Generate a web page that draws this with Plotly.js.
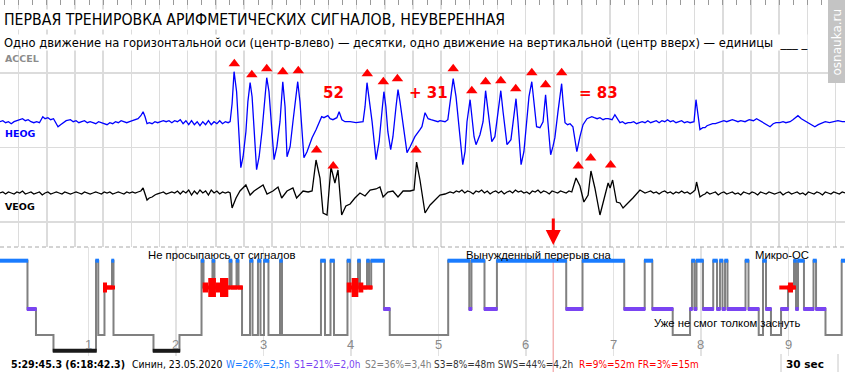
<!DOCTYPE html>
<html><head><meta charset="utf-8">
<script src="https://cdn.plot.ly/plotly-3.0.1.min.js"></script>
<style>html,body{margin:0;padding:0;background:#fff}</style>
</head><body><div id="chart" style="width:845px;height:372px"></div>
<script>
// ---------------- DATA ----------------
// 30-second epoch, time in seconds from the start of the epoch
const heogPoints = [
[0,0],[0.1,1],[0.2,-1],[0.3,0],[0.4,-2],[0.5,0],[0.6,1],[0.7,2],[0.8,3],[0.9,1],[1.0,2],[1.1,0],[1.2,-1],[1.3,0],[1.4,-1],[1.52,5],[1.6,3],[1.7,4],[1.8,2],[1.9,3],[2.0,-2],[2.06,-5],[2.15,-3],[2.25,-1],[2.35,1],[2.5,2],[2.6,0],[2.7,1],[2.8,-1],[2.9,0],[3.0,1],[3.1,-1],[3.2,0],[3.3,-1],[3.4,-2],[3.5,0],[3.6,-1],[3.7,-2],[3.8,-3],[3.9,-1],[4.0,-2],[4.1,0],[4.2,-1],[4.3,1],[4.4,0],[4.5,-1],[4.6,0],[4.7,1],[4.8,2],[4.9,3],[5.0,6],[5.08,10],[5.15,5],[5.22,-2],[5.3,-1],[5.4,-2],[5.5,0],[5.6,-1],[5.7,0],[5.8,1],[5.9,0],[6.0,1],[6.1,-1],[6.2,1],[6.3,0],[6.4,2],[6.5,-2],[6.6,1],[6.7,-3],[6.8,1],[6.9,-3],[7.0,0],[7.1,-4],[7.2,0],[7.3,-3],[7.4,1],[7.5,-3],[7.6,0],[7.7,-2],[7.8,1],[7.9,-2],[8.0,0],[8.1,-1],
[8.17,0],[8.24,18],[8.31,50],[8.40,30],[8.45,0],[8.55,-46],[8.63,-35],[8.73,-10],[8.80,20],[8.88,39],[8.95,25],[9.02,-10],[9.11,-48],[9.20,-35],[9.30,-10],[9.41,25],[9.47,44],[9.55,30],[9.62,0],[9.73,-38],[9.83,-25],[9.94,0],[10.04,40],[10.12,15],[10.19,-35],[10.30,-25],[10.40,0],[10.51,30],[10.57,40],[10.65,20],[10.72,-10],[10.79,-36],[10.90,-30],[11.08,-16],[11.22,-8],[11.30,-2],[11.42,5],[11.50,4],[11.64,6],[11.72,3],[11.82,2],[11.96,4],[12.04,10],[12.14,2],[12.25,0],[12.43,0],[12.64,-1],[12.89,0],[12.96,15],[13.03,39],[13.10,25],[13.21,0],[13.35,-38],[13.46,-20],[13.56,10],[13.63,30],[13.70,15],[13.77,-10],[13.87,-28],[13.95,-15],[14.06,15],[14.13,32],[14.20,20],[14.31,-5],[14.45,-31],[14.56,-25],[14.73,-15],[14.91,-8],[14.98,-5],[15.09,9],[15.20,3],[15.30,2],[15.44,1],[15.55,0],[15.62,1],[15.80,0],[15.90,2],[15.98,20],[16.09,43],[16.19,25],[16.30,-10],[16.43,-43],[16.51,-30],[16.58,0],[16.69,22],[16.76,5],[16.83,-15],[16.90,-23],[17.04,-13],[17.15,0],[17.24,31],[17.33,10],[17.40,-10],[17.46,-20],[17.57,-15],[17.68,10],[17.78,31],[17.86,10],[17.93,-10],[18.00,-23],[18.14,-18],[18.21,0],[18.32,23],[18.39,0],[18.50,-43],[18.60,-30],[18.71,0],[18.78,25],[18.88,40],[18.96,20],[19.05,-5],[19.17,-6],[19.28,0],[19.37,27],[19.46,0],[19.55,-33],[19.63,-25],[19.70,-16],[19.81,10],[19.94,38],[19.99,20],[20.06,-1],[20.15,-3],[20.24,-2],[20.34,-5],[20.48,-30],[20.59,-15],[20.70,-3],[20.84,3],[21.01,5],[21.10,4],[21.20,3],[21.30,4],[21.41,2],[21.50,3],[21.59,3],[21.73,2],[21.83,7],[21.94,2],[22.01,-1],
[22.1,0],[22.2,-2],[22.3,-1],[22.4,-1],[22.5,0],[22.6,-2],[22.7,-1],[22.8,0],[22.9,-1],[23.0,1],[23.1,-1],[23.2,0],[23.3,1],[23.4,-1],[23.5,1],[23.6,0],[23.7,2],[23.8,0],[23.9,1],[24.0,-1],[24.1,0],[24.2,1],[24.3,-1],[24.4,0],[24.5,-1],[24.64,0],[24.71,22],[24.78,5],[24.85,-8],[24.95,-6],[25.03,-6],[25.1,-4],[25.21,-3],[25.3,-2],[25.4,-2],[25.5,-1],[25.56,0],[25.7,1],[25.8,0],[25.92,1],[26.0,2],[26.1,1],[26.2,0],[26.3,1],[26.45,0],[26.6,2],[26.75,1],[26.86,3],[26.98,1],[27.1,-1],[27.2,-3],[27.34,-5],[27.45,-2],[27.55,-1],[27.69,-1],[27.8,0],[27.9,-1],[28.05,0],[28.15,2],[28.25,4],[28.33,6],[28.45,3],[28.58,1],[28.7,-1],[28.8,-3],[28.93,-5],[29.05,-3],[29.18,-1],[29.3,0],[29.45,-1],[29.6,0],[29.75,1],[29.9,0],[30.0,0]
];
const veogPoints = [
[0,0],[0.1,1],[0.2,-1],[0.3,1],[0.4,0],[0.5,-1],[0.6,1],[0.7,0],[0.8,2],[0.9,-1],[1.0,0],[1.1,1],[1.2,-1],[1.3,0],[1.4,1],[1.5,-2],[1.6,0],[1.7,1],[1.8,-1],[1.9,0],[2.0,1],[2.1,0],[2.2,-1],[2.3,1],[2.4,0],[2.5,-1],[2.6,0],[2.7,1],[2.8,0],[2.9,-1],[3.0,1],[3.1,0],[3.2,-1],[3.3,0],[3.4,1],[3.5,0],[3.6,-1],[3.7,1],[3.8,0],[3.9,1],[4.0,-1],[4.1,0],[4.2,1],[4.3,0],[4.4,-1],[4.5,1],[4.6,0],[4.7,1],[4.8,0],[4.9,1],[5.0,2],[5.08,5],[5.15,-2],[5.22,-7],[5.3,-5],[5.4,-4],[5.5,-2],[5.57,-1],[5.7,0],[5.8,1],[5.9,-1],[6.0,0],[6.1,1],[6.2,0],[6.3,2],[6.4,-1],[6.5,2],[6.6,0],[6.7,3],[6.8,-2],[6.9,2],[7.0,-1],[7.1,3],[7.2,0],[7.3,2],[7.4,-2],[7.5,3],[7.6,0],[7.7,2],[7.8,-1],[7.9,1],[8.0,0],[8.1,1],
[8.17,0],[8.24,-15],[8.38,-5],[8.52,2],[8.73,8],[8.88,-2],[9.02,2],[9.12,4],[9.34,8],[9.48,-1],[9.69,2],[9.87,6],[10.00,-5],[10.19,2],[10.40,5],[10.53,-5],[10.76,2],[10.94,1],[11.08,2],[11.22,33],[11.36,15],[11.47,-20],[11.61,-22],[11.75,26],[11.89,10],[12.00,23],[12.13,-22],[12.28,-13],[12.43,-11],[12.60,-5],[12.78,0],[12.96,-3],[13.14,3],[13.35,4],[13.49,6],[13.60,-4],[13.77,1],[13.95,2],[14.13,-4],[14.31,2],[14.56,2],[14.70,3],[14.79,31],[14.91,13],[15.02,-5],[15.09,-20],[15.27,-12],[15.44,-7],[15.62,-2],[15.80,-1],[15.98,1],
[16.1,0],[16.2,2],[16.3,1],[16.4,3],[16.5,0],[16.6,2],[16.7,1],[16.8,-1],[16.9,2],[17.0,1],[17.1,3],[17.2,0],[17.3,2],[17.4,-1],[17.5,1],[17.6,2],[17.7,0],[17.8,2],[17.9,-1],[18.0,1],[18.1,2],[18.2,0],[18.3,3],[18.4,1],[18.5,2],[18.6,0],[18.7,1],[18.8,-1],[18.9,2],[19.0,1],[19.1,3],[19.2,0],[19.3,2],[19.4,1],[19.5,-1],[19.6,2],[19.7,1],[19.8,0],[19.9,2],[20.0,1],[20.1,0],[20.2,2],[20.3,1],
[20.45,15],[20.59,7],[20.73,-9],[20.88,-2],[20.98,22],[21.12,5],[21.30,-22],[21.44,-5],[21.59,10],[21.66,5],[21.75,13],[21.89,-9],[22.01,-10],[22.12,-15],[22.30,-10],[22.47,-5],[22.72,3],
[22.8,2],[22.9,0],[23.0,1],[23.1,2],[23.2,0],[23.3,1],[23.4,-1],[23.5,1],[23.6,2],[23.7,0],[23.8,1],[23.9,-1],[24.0,1],[24.1,0],[24.2,2],[24.3,0],[24.4,1],[24.5,-1],[24.6,1],[24.68,3],[24.73,11],[24.8,2],[24.85,-4],[24.95,-2],[25.03,-1],[25.1,1],[25.2,-1],[25.3,0],[25.4,1],[25.5,-2],[25.6,0],[25.7,1],[25.8,-1],[25.9,0],[26.0,1],[26.1,-1],[26.2,0],[26.3,-2],[26.4,1],[26.5,0],[26.6,-1],[26.7,1],[26.8,0],[26.9,-2],[27.0,1],[27.1,0],[27.2,-1],[27.3,1],[27.4,0],[27.5,-1],[27.6,0],[27.7,1],[27.8,-2],[27.9,0],[28.0,1],[28.1,-1],[28.2,0],[28.3,1],[28.4,-1],[28.5,0],[28.6,-2],[28.7,1],[28.8,0],[28.9,-1],[29.0,1],[29.1,0],[29.2,-2],[29.3,1],[29.4,0],[29.5,-1],[29.6,1],[29.7,0],[29.8,-1],[29.9,1],[30.0,0]
];
// detected eye-movement signals (time s, level)
const heogMarks = [[8.32,58],[8.94,47],[9.47,53],[10.04,50],[10.59,51],[13.04,48],[13.61,40],[14.11,43],[16.09,53],[16.75,31],[17.24,40],[17.78,41],[18.31,33],[18.88,49],[19.37,37],[19.94,49]];
const veogMarks = [[11.24,43],[11.83,27],[14.77,43],[20.53,27],[20.97,35],[21.68,28]];

// hypnogram: stage start (hours) and stage
const stageStart = [-0.01,0.305,0.402,0.602,1.088,1.114,1.185,1.271,1.288,1.745,2.042,2.294,2.317,2.419,2.442,2.614,2.637,2.694,2.717,2.757,2.848,2.877,2.939,2.968,3.008,3.059,3.191,3.214,3.659,3.705,3.768,3.808,3.962,3.991,4.082,4.105,4.185,4.208,4.233,4.379,4.445,5.113,5.354,5.379,5.528,5.670,6.462,6.648,7.125,7.359,7.446,7.679,7.877,7.899,7.927,7.951,8.025,8.142,8.185,8.219,8.248,8.277,8.305,8.511,8.545,8.662,8.711,8.745,8.802,8.917,8.997,9.065,9.088,9.111,9.179,9.288,9.317,9.425,9.610];
const stageCode  = ['W','S1','S2','S3','W','S2','R','W','S2','S3','S2','W','R','W','R','W','R','W','R','S2','W','S2','W','S2','W','S2','W','S2','W','S2','W','S2','W','R','W','R','W','R','W','S1','S2','W','S1','W','S1','W','S1','W','S1','W','S1','S2','S1','W','S1','W','S1','W','S1','W','S1','W','S1','W','S1','S2','W','S1','S2','S1','R','W','S1','W','S1','W','S1','S2','W'];
const stageEnd = 9.66;
// REM intensity bursts: [start h, end h, intensity 1..4]
const remBursts = [[1.168,1.214,2],[1.214,1.305,1],[2.307,2.371,2],[2.371,2.459,3],[2.459,2.505,2],[2.505,2.600,3],[2.600,2.765,1],[3.953,4.010,2],[4.010,4.086,3],[4.086,4.143,2],[4.143,4.250,1],[8.897,9.088,1],[8.997,9.054,2],[8.934,8.953,4]];
const hourTicks = [1,2,3,4,5,6,7,8,9];
const currentHour = 6.314;
const hypNotes = [[2.525,'Не просыпаюсь от сигналов','top'],[6.15,'Вынужденный перерыв сна','top'],[8.93,'Микро-ОС','top'],[8.30,'Уже не смог толком заснуть','low']];
const statusTime = '5:29:45.3 (6:18:42.3)';
const statusWho = 'Синин, 23.05.2020';
const sumStats = [['W=26%=2,5h','#1a7cff'],['S1=21%=2,0h','#7a44f2'],['S2=36%=3,4h','#808080'],['S3=8%=48m SWS=44%=4,2h','#333333'],['R=9%=52m FR=3%=15m','#ff0000']];
const mathTexts = ['52','+ 31','= 83'];

// ---------------- DRAW ----------------
const W = 845, H = 372;
const PY = v => 1 - v / H, PX = v => v / W;
const COND = '"DejaVu Sans Condensed","Liberation Sans Narrow","Arial Narrow",sans-serif';
const SANS = '"Liberation Sans",Arial,sans-serif';
const VERD = '"DejaVu Sans",Verdana,sans-serif';
const level = {W:260.7, R:287.5, S1:309, S2:335, S3:350.8};
const stageColor = {W:'#1a7cff', R:'#ff0000', S1:'#7a44f2', S3:'#1a1a1a'};

const traces = [];
// hypnogram connector (step)
const sx = stageStart.concat([stageEnd]);
const sy = stageCode.map(s => level[s]).concat([level[stageCode[stageCode.length-1]]]);
traces.push({type:'scatter', mode:'lines', x:sx, y:sy, xaxis:'x2', yaxis:'y3', line:{color:'#808080', width:2, shape:'hv'}, hoverinfo:'skip'});
// stage bars
const pad = 0.008;
['W','S1','S3','R'].forEach(s => {
  const bx = [], by = [];
  stageCode.forEach((c, i) => {
    if (c !== s) return;
    const x0 = stageStart[i], x1 = (i + 1 < stageStart.length ? stageStart[i+1] : stageEnd);
    bx.push(x0 - pad, x1 + pad, null); by.push(level[s], level[s], null);
  });
  traces.push({type:'scatter', mode:'lines', x:bx, y:by, xaxis:'x2', yaxis:'y3', line:{color:stageColor[s], width:4}, hoverinfo:'skip'});
});
// REM bursts
const remWidth = {1:4, 2:10, 3:19, 4:38};
[1,2,3,4].forEach(k => {
  const bx = [], by = [];
  remBursts.filter(b => b[2] === k).forEach(b => { bx.push(b[0], b[1], null); by.push(level.R, level.R, null); });
  traces.push({type:'scatter', mode:'lines', x:bx, y:by, xaxis:'x2', yaxis:'y3', line:{color:'#ff0000', width:remWidth[k]}, hoverinfo:'skip'});
});
// EOG
traces.push({type:'scatter', mode:'lines', x:heogPoints.map(p=>p[0]), y:heogPoints.map(p=>p[1]), xaxis:'x', yaxis:'y', line:{color:'#0000ff', width:1.3}, hoverinfo:'skip'});
traces.push({type:'scatter', mode:'lines', x:veogPoints.map(p=>p[0]), y:veogPoints.map(p=>p[1]), xaxis:'x', yaxis:'y2', line:{color:'#000000', width:1.3}, hoverinfo:'skip'});
traces.push({type:'scatter', mode:'markers', x:heogMarks.map(p=>p[0]), y:heogMarks.map(p=>p[1]), xaxis:'x', yaxis:'y', marker:{symbol:'triangle-up', size:10, color:'#ff0000'}, hoverinfo:'skip'});
traces.push({type:'scatter', mode:'markers', x:veogMarks.map(p=>p[0]), y:veogMarks.map(p=>p[1]), xaxis:'x', yaxis:'y2', marker:{symbol:'triangle-up', size:10, color:'#ff0000'}, hoverinfo:'skip'});

const ann = [];
function note(x, y, text, font, xanchor, extra) {
  ann.push(Object.assign({xref:'paper', yref:'paper', x:PX(x), y:PY(y), text:text, showarrow:false, xanchor:xanchor||'left', yanchor:'middle', font:font, borderpad:0}, extra||{}));
}
note(3, 20, 'ПЕРВАЯ ТРЕНИРОВКА АРИФМЕТИЧЕСКИХ СИГНАЛОВ, НЕУВЕРЕННАЯ', {family:COND, size:15.7, color:'#000'}, 'left', {bgcolor:'#fff'});
note(3, 42, 'Одно движение на горизонтальной оси (центр-влево) — десятки, одно движение на вертикальной (центр вверх) — единицы  ___ _', {family:COND, size:12.8, color:'#000'}, 'left', {bgcolor:'#fff'});
note(4, 59, '<b>ACCEL</b>', {family:VERD, size:9.5, color:'#8c8c8c'});
note(4, 133, '<b>HEOG</b>', {family:VERD, size:9.5, color:'#0000ff'});
note(4, 207, '<b>VEOG</b>', {family:VERD, size:9.5, color:'#000'});
const mathX = [333, 428, 598];
mathTexts.forEach((m, i) => note(mathX[i], 93, '<b>' + m + '</b>', {family:VERD, size:15, color:'#ff0000'}, 'center'));
// hypnogram notes
hypNotes.forEach(n => ann.push({xref:'x2', yref:'paper', x:n[0], y:PY(n[2]==='top'?255:323), text:n[1], showarrow:false, xanchor:'center', yanchor:'middle', font:{family:SANS, size:11.3, color:'#000'}}));
hourTicks.forEach(h => ann.push({xref:'x2', yref:'paper', x:h, y:PY(344), text:String(h), showarrow:false, xanchor:'center', yanchor:'middle', font:{family:SANS, size:13, color:'#8a8a8a'}}));
// status line
note(10, 364, '<b>' + statusTime + '</b>', {family:COND, size:10.6, color:'#000'});
note(131, 364, statusWho, {family:COND, size:10.4, color:'#000'});
const statX = [225, 293, 364, 433, 578];
sumStats.forEach((s, i) => note(statX[i], 364, s[0], {family:COND, size:10, color:s[1]}));
note(785, 364, '<b>30 sec</b>', {family:VERD, size:10.5, color:'#000'});
// watermark
note(836.5, 42, 'osnauka.ru', {family:VERD, size:12, color:'#fff'}, 'center', {textangle:-90});
// current epoch arrow
ann.push({xref:'x2', yref:'paper', x:currentHour, y:PY(245), ax:0, ay:-28, text:'', showarrow:true, arrowhead:2, arrowsize:1, arrowwidth:3, arrowcolor:'#ff0000'});

const shapes = [
  {type:'line', xref:'paper', yref:'paper', x0:0, x1:1, y0:PY(247), y1:PY(247), line:{color:'#a8a8a8', width:1, dash:'4px,3px'}},
  {type:'line', xref:'x2', yref:'paper', x0:currentHour, x1:currentHour, y0:PY(262), y1:0, line:{color:'#f4b4b4', width:1.5}, layer:'below'},
  {type:'rect', xref:'paper', yref:'paper', x0:PX(828), x1:1, y0:PY(83), y1:1, fillcolor:'#c4c4c4', line:{width:0}},
  {type:'line', xref:'paper', yref:'paper', x0:PX(781), x1:PX(781), y0:PY(354), y1:0, line:{color:'#c8c8c8', width:1}},
  {type:'line', xref:'paper', yref:'paper', x0:PX(838), x1:PX(838), y0:PY(354), y1:0, line:{color:'#c8c8c8', width:1}}
];

const layout = {
  width:W, height:H, margin:{l:0,r:0,t:0,b:0,pad:0},
  paper_bgcolor:'#fff', plot_bgcolor:'#fff', showlegend:false,
  xaxis:{domain:[0,1], range:[0,30], anchor:'y', side:'top', showgrid:true, gridcolor:'#dcdcdc', gridwidth:1.5, tick0:0.66, dtick:1, ticks:'inside', ticklen:5, tickcolor:'#999', showticklabels:false, zeroline:false, showline:false,
         minor:{tick0:0.16, dtick:0.5, ticks:'inside', ticklen:5, tickcolor:'#999', showgrid:false}},
  yaxis:{domain:[PY(247),1], range:[-125.3,121.7], showgrid:true, gridcolor:'#dcdcdc', gridwidth:1.5, tick0:48.7, dtick:74.5, showticklabels:false, zeroline:false, ticks:''},
  yaxis2:{domain:[PY(247),1], range:[-54,193], overlaying:'y', showgrid:false, showticklabels:false, zeroline:false, ticks:''},
  xaxis2:{domain:[0,1], range:[-0.0091,9.648], anchor:'y3', showgrid:true, gridcolor:'#e2e2e2', gridwidth:1.5, tickvals:hourTicks, showticklabels:false, zeroline:false, ticks:''},
  yaxis3:{domain:[PY(356),PY(247)], range:[356,247], showgrid:false, showticklabels:false, zeroline:false, ticks:''},
  annotations:ann, shapes:shapes
};
Plotly.newPlot('chart', traces, layout, {staticPlot:true, displayModeBar:false});
</script></body></html>
